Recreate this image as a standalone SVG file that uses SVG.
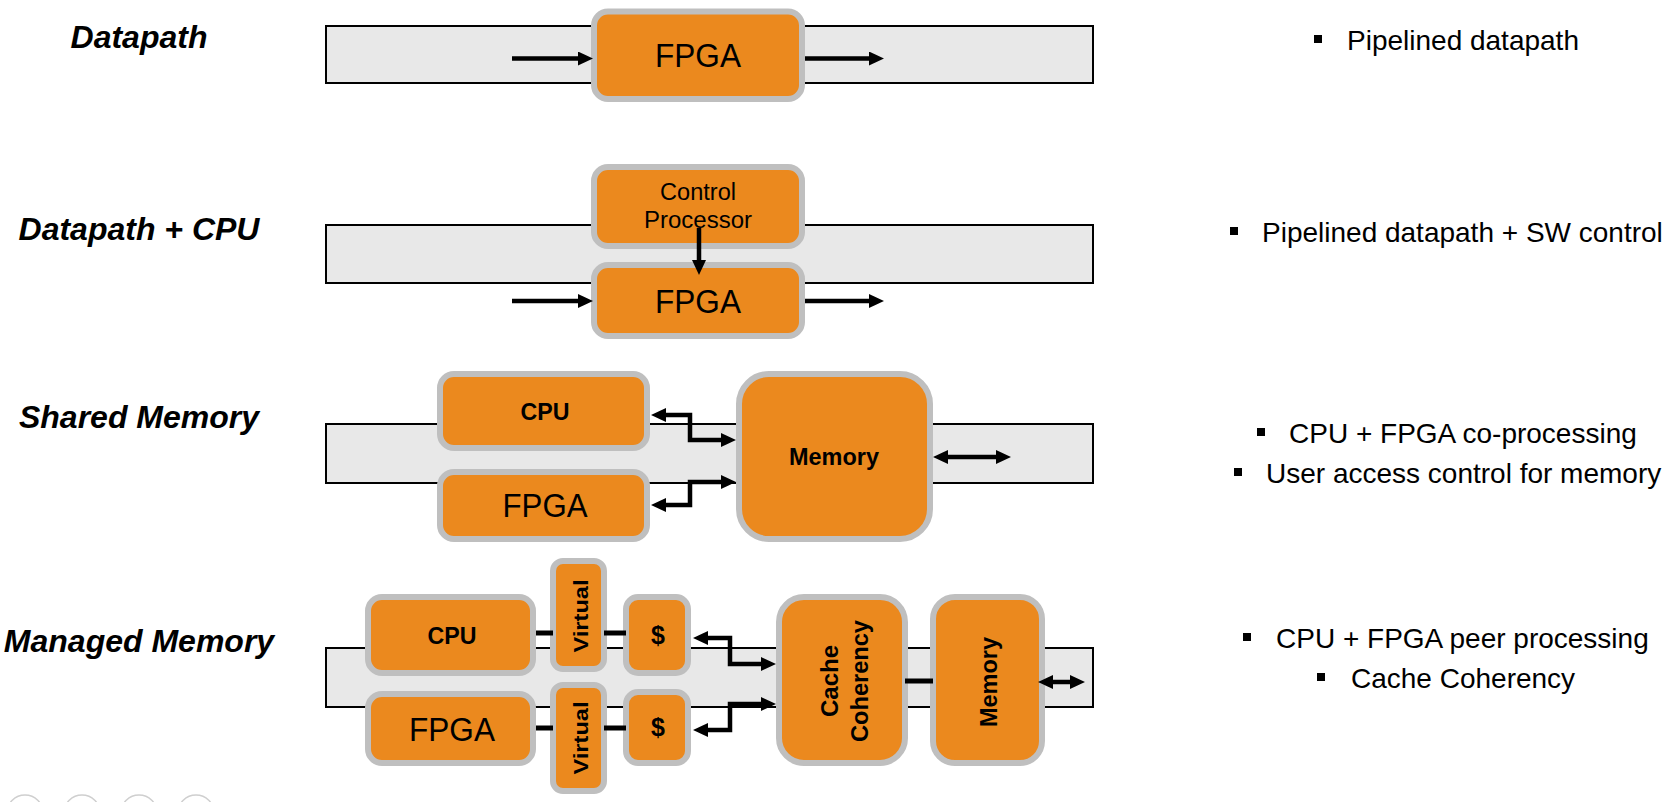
<svg xmlns="http://www.w3.org/2000/svg" width="1672" height="802" viewBox="0 0 1672 802">
  <style>
    .band { fill: #e8e8e8; stroke: #000; stroke-width: 2; }
    .box { fill: #eb891e; stroke: #bfbfbf; stroke-width: 6; }
    .lbl { font-family: "Liberation Sans", Arial, sans-serif; font-weight: bold; font-style: italic; font-size: 32px; fill: #000; text-anchor: middle; }
    .note { font-family: "Liberation Sans", Arial, sans-serif; font-size: 28px; fill: #000; }
    .nar { font-family: "Liberation Sans Narrow", "Liberation Sans", Arial, sans-serif; fill: #000; text-anchor: middle; }
    .bld { font-family: "Liberation Sans", Arial, sans-serif; font-weight: bold; fill: #000; text-anchor: middle; }
    .wire { fill: none; stroke: #000; stroke-width: 4.5; }
    .tie { fill: none; stroke: #000; stroke-width: 5; }
    .dot { fill: #000; }
    .ring { fill: none; stroke: #cfcfcf; stroke-width: 1.5; }
  </style>
  <defs>
    <marker id="ah" markerUnits="userSpaceOnUse" markerWidth="16" markerHeight="15" refX="1" refY="7" orient="auto-start-reverse">
      <path d="M0,0 L15,7 L0,14 z" fill="#000"/>
    </marker>
  </defs>

  <rect width="1672" height="802" fill="#fff"/>

  <!-- row titles -->
  <g id="titles">
    <text class="lbl" x="139" y="48">Datapath</text>
    <text class="lbl" x="139" y="240">Datapath + CPU</text>
    <text class="lbl" x="139" y="428">Shared Memory</text>
    <text class="lbl" x="139" y="652">Managed Memory</text>
  </g>

  <!-- interconnect bands -->
  <g id="bands">
    <rect class="band" x="326" y="26" width="767" height="57"/>
    <rect class="band" x="326" y="225" width="767" height="58"/>
    <rect class="band" x="326" y="424" width="767" height="59"/>
    <rect class="band" x="326" y="648" width="767" height="59"/>
  </g>

  <!-- row 1: datapath -->
  <g id="r1-fpga">
    <rect class="box" x="594" y="11.5" width="208" height="87.5" rx="14"/>
    <text class="nar" x="698" y="67" font-size="34" textLength="86" lengthAdjust="spacingAndGlyphs">FPGA</text>
  </g>

  <!-- row 2: datapath + CPU -->
  <g id="r2-ctrl">
    <rect class="box" x="594" y="167" width="208" height="79" rx="14"/>
    <text class="nar" x="698" y="200" font-size="23" textLength="76" lengthAdjust="spacingAndGlyphs">Control</text>
    <text class="nar" x="698" y="228" font-size="23" textLength="108" lengthAdjust="spacingAndGlyphs">Processor</text>
  </g>
  <g id="r2-fpga">
    <rect class="box" x="594" y="265" width="208" height="71" rx="14"/>
    <text class="nar" x="698" y="313" font-size="34" textLength="86" lengthAdjust="spacingAndGlyphs">FPGA</text>
  </g>

  <!-- row 3: shared memory -->
  <g id="r3-cpu">
    <rect class="box" x="440" y="374" width="207" height="74" rx="14"/>
    <text class="bld" x="545" y="420" font-size="23" textLength="49" lengthAdjust="spacingAndGlyphs">CPU</text>
  </g>
  <g id="r3-fpga">
    <rect class="box" x="440" y="472" width="207" height="67" rx="14"/>
    <text class="nar" x="545" y="517" font-size="34" textLength="85" lengthAdjust="spacingAndGlyphs">FPGA</text>
  </g>
  <g id="r3-mem">
    <rect class="box" x="739" y="374" width="191" height="165" rx="30"/>
    <text class="bld" x="834" y="465" font-size="23" textLength="90" lengthAdjust="spacingAndGlyphs">Memory</text>
  </g>

  <!-- row 4: managed memory -->
  <g id="r4-cpu">
    <rect class="box" x="368" y="597" width="165" height="76" rx="14"/>
    <text class="bld" x="452" y="644" font-size="23" textLength="49" lengthAdjust="spacingAndGlyphs">CPU</text>
  </g>
  <g id="r4-fpga">
    <rect class="box" x="368" y="694" width="165" height="69" rx="14"/>
    <text class="nar" x="452" y="741" font-size="34" textLength="86" lengthAdjust="spacingAndGlyphs">FPGA</text>
  </g>
  <g id="r4-virt-a">
    <rect class="box" x="553" y="561" width="51" height="108" rx="10"/>
    <text class="bld" transform="translate(588,616) rotate(-90)" x="0" y="0" font-size="21" textLength="73" lengthAdjust="spacingAndGlyphs">Virtual</text>
  </g>
  <g id="r4-virt-b">
    <rect class="box" x="553" y="685" width="51" height="106" rx="10"/>
    <text class="bld" transform="translate(588,738) rotate(-90)" x="0" y="0" font-size="21" textLength="73" lengthAdjust="spacingAndGlyphs">Virtual</text>
  </g>
  <g id="r4-cache-a">
    <rect class="box" x="626" y="597" width="62" height="76" rx="12"/>
    <text class="bld" x="658" y="644" font-size="25">$</text>
  </g>
  <g id="r4-cache-b">
    <rect class="box" x="626" y="692" width="62" height="71" rx="12"/>
    <text class="bld" x="658" y="736" font-size="25">$</text>
  </g>
  <g id="r4-coherency">
    <rect class="box" x="779" y="597" width="126" height="166" rx="25"/>
    <text class="bld" transform="translate(838,681) rotate(-90)" x="0" y="0" font-size="24" textLength="72" lengthAdjust="spacingAndGlyphs">Cache</text>
    <text class="bld" transform="translate(868,681) rotate(-90)" x="0" y="0" font-size="24" textLength="122" lengthAdjust="spacingAndGlyphs">Coherency</text>
  </g>
  <g id="r4-mem">
    <rect class="box" x="933" y="597" width="109" height="166" rx="22"/>
    <text class="bld" transform="translate(997,682) rotate(-90)" x="0" y="0" font-size="24" textLength="90" lengthAdjust="spacingAndGlyphs">Memory</text>
  </g>

  <!-- connectors -->
  <g id="connectors">
    <path class="wire" d="M512,58.5 H579" marker-end="url(#ah)"/>
    <path class="wire" d="M805,58.5 H870" marker-end="url(#ah)"/>

    <path class="wire" d="M699,228 V261" stroke-width="5" marker-end="url(#ah)"/>
    <path class="wire" d="M512,301 H579" marker-end="url(#ah)"/>
    <path class="wire" d="M805,301 H870" marker-end="url(#ah)"/>

    <path class="wire" d="M665,415 H690 V440 H722" marker-start="url(#ah)" marker-end="url(#ah)"/>
    <path class="wire" d="M665,505 H690 V482 H722" marker-start="url(#ah)" marker-end="url(#ah)"/>
    <path class="wire" d="M947,457 H997" marker-start="url(#ah)" marker-end="url(#ah)"/>

    <path class="tie" d="M536,633 H553"/>
    <path class="tie" d="M604,633 H626"/>
    <path class="tie" d="M536,728 H553"/>
    <path class="tie" d="M604,728 H626"/>
    <path class="tie" d="M905,681 H933"/>
    <path class="wire" d="M707,638 H730 V664 H762" marker-start="url(#ah)" marker-end="url(#ah)"/>
    <path class="wire" d="M707,730 H730 V704 H762" marker-start="url(#ah)" marker-end="url(#ah)"/>
    <path class="wire" d="M1052,682 H1071" marker-start="url(#ah)" marker-end="url(#ah)"/>
  </g>

  <!-- feature notes -->
  <g id="notes">
    <rect class="dot" x="1314" y="35" width="8" height="8"/>
    <text class="note" x="1347" y="50">Pipelined datapath</text>
    <rect class="dot" x="1230" y="227" width="8" height="8"/>
    <text class="note" x="1262" y="242">Pipelined datapath + SW control</text>
    <rect class="dot" x="1257" y="428" width="8" height="8"/>
    <text class="note" x="1289" y="443">CPU + FPGA co-processing</text>
    <rect class="dot" x="1234" y="468" width="8" height="8"/>
    <text class="note" x="1266" y="483">User access control for memory</text>
    <rect class="dot" x="1243" y="633" width="8" height="8"/>
    <text class="note" x="1276" y="648">CPU + FPGA peer processing</text>
    <rect class="dot" x="1317" y="673" width="8" height="8"/>
    <text class="note" x="1351" y="688">Cache Coherency</text>
  </g>

  <!-- page controls, cut off at the bottom edge -->
  <g id="pager">
    <circle class="ring" cx="25" cy="813" r="18"/>
    <circle class="ring" cx="82" cy="813" r="18"/>
    <circle class="ring" cx="139" cy="813" r="18"/>
    <circle class="ring" cx="196" cy="813" r="18"/>
  </g>
</svg>
